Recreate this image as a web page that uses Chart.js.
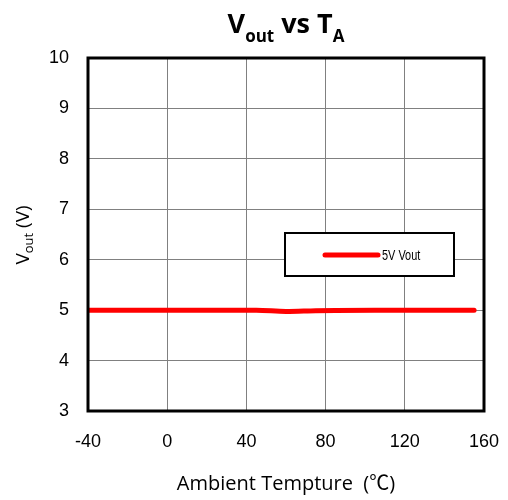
<!DOCTYPE html>
<html>
<head>
<meta charset="utf-8">
<script src="https://cdn.jsdelivr.net/npm/chart.js@4.4.0/dist/chart.umd.min.js"></script>
<style>
  html, body { margin: 0; padding: 0; background: #fff; }
  #wrap { width: 508px; height: 500px; }
</style>
</head>
<body>
<div id="wrap"><canvas id="chVout"></canvas></div>
<script>
// data
const temps = [-40, -20, 0, 25, 45, 60, 75, 85, 105, 125, 155];
const vout5 = [5.0, 5.0, 5.0, 5.0, 5.0, 4.975, 4.99, 4.995, 5.0, 5.0, 5.0];
const xTicks = [-40, 0, 40, 80, 120, 160];
const yTicks = [3, 4, 5, 6, 7, 8, 9, 10];
const seriesLabel = "5V Vout";

// draw a run of [text, font, dy] pieces starting at x
function drawParts(ctx, parts, x, y) {
  parts.forEach(p => {
    ctx.font = p[1];
    ctx.fillText(p[0], x, y + p[2]);
    x += ctx.measureText(p[0]).width;
  });
}
function partsWidth(ctx, parts) {
  let w = 0;
  parts.forEach(p => { ctx.font = p[1]; w += ctx.measureText(p[0]).width; });
  return w;
}

// titles, frame and boxed legend
const decorPlugin = {
  id: "decor",
  afterDraw(chart) {
    const ctx = chart.ctx;
    const a = chart.chartArea;
    const cx = (a.left + a.right) / 2;
    ctx.save();

    // frame
    ctx.strokeStyle = "#000";
    ctx.lineWidth = 3;
    ctx.strokeRect(a.left, a.top, a.right - a.left, a.bottom - a.top);

    ctx.fillStyle = "#000";
    ctx.textBaseline = "alphabetic";
    ctx.textAlign = "left";

    // main title V_out vs T_A
    const big = "bold 27px 'Open Sans'";
    const sub = "bold 17px 'Open Sans'";
    const parts = [["V", big, 0], ["out", sub, 9], [" vs T", big, 0], ["A", sub, 9]];
    drawParts(ctx, parts, cx - partsWidth(ctx, parts) / 2, 33);

    // x axis title
    const xf = "20px 'Open Sans'";
    const xparts = [["Ambient Tempture  (", xf, 0], ["\u2103", "20px 'Noto Sans CJK SC'", 0], [")", xf, 0]];
    drawParts(ctx, xparts, cx - partsWidth(ctx, xparts) / 2, 490);

    // y axis title (rotated)
    ctx.save();
    ctx.translate(29, 235);
    ctx.rotate(-Math.PI / 2);
    const yparts = [["V", "19px 'Open Sans'", 0], ["out", "13px 'Open Sans'", 4], [" (V)", "19px 'Open Sans'", 0]];
    drawParts(ctx, yparts, -partsWidth(ctx, yparts) / 2, 0);
    ctx.restore();

    // legend box
    const lx = 285, ly = 233, lw = 169, lh = 43;
    ctx.fillStyle = "#fff";
    ctx.fillRect(lx, ly, lw, lh);
    ctx.strokeStyle = "#000";
    ctx.lineWidth = 2;
    ctx.strokeRect(lx, ly, lw, lh);
    const ds = chart.data.datasets[0];
    ctx.strokeStyle = ds.borderColor;
    ctx.lineWidth = 5;
    ctx.lineCap = "round";
    ctx.beginPath();
    ctx.moveTo(325, 255);
    ctx.lineTo(378, 255);
    ctx.stroke();
    ctx.save();
    ctx.translate(382, 256);
    ctx.scale(0.78, 1);
    ctx.fillStyle = "#000";
    ctx.font = "14px 'Liberation Sans'";
    ctx.textBaseline = "middle";
    ctx.fillText(ds.label, 0, 0);
    ctx.restore();

    ctx.restore();
  }
};

const config = {
  type: "line",
  data: {
    datasets: [
      {
        label: seriesLabel,
        data: temps.map((t, i) => ({ x: t, y: vout5[i] })),
        borderColor: "#ff0000",
        backgroundColor: "#ff0000",
        borderWidth: 5,
        borderCapStyle: "round",
        pointRadius: 0,
        cubicInterpolationMode: "monotone",
      },
    ],
  },
  options: {
    responsive: true,
    maintainAspectRatio: false,
    animation: false,
    layout: { padding: { top: 58, right: 24, left: 0, bottom: 0 } },
    plugins: { legend: { display: false }, title: { display: false }, tooltip: { enabled: false } },
    scales: {
      x: {
        type: "linear",
        min: -40,
        max: 160,
        afterBuildTicks: s => { s.ticks = xTicks.map(v => ({ value: v })); },
        afterFit: s => { s.height = 89; s.paddingLeft = 0; s.paddingRight = 0; },
        grid: { color: "#808080", lineWidth: 1, drawTicks: false },
        border: { display: false },
        ticks: { color: "#000", font: { family: "'Liberation Sans'", size: 18 }, padding: 20 },
      },
      y: {
        min: 3,
        max: 10,
        afterBuildTicks: s => { s.ticks = yTicks.map(v => ({ value: v })); },
        afterFit: s => { s.width = 88; s.paddingTop = 0; s.paddingBottom = 0; },
        grid: { color: "#808080", lineWidth: 1, drawTicks: false },
        border: { display: false },
        ticks: { color: "#000", font: { family: "'Liberation Sans'", size: 18 }, padding: 19 },
      },
    },
  },
  plugins: [decorPlugin],
};

var myChart = new Chart(document.getElementById("chVout"), config);
</script>
</body>
</html>
